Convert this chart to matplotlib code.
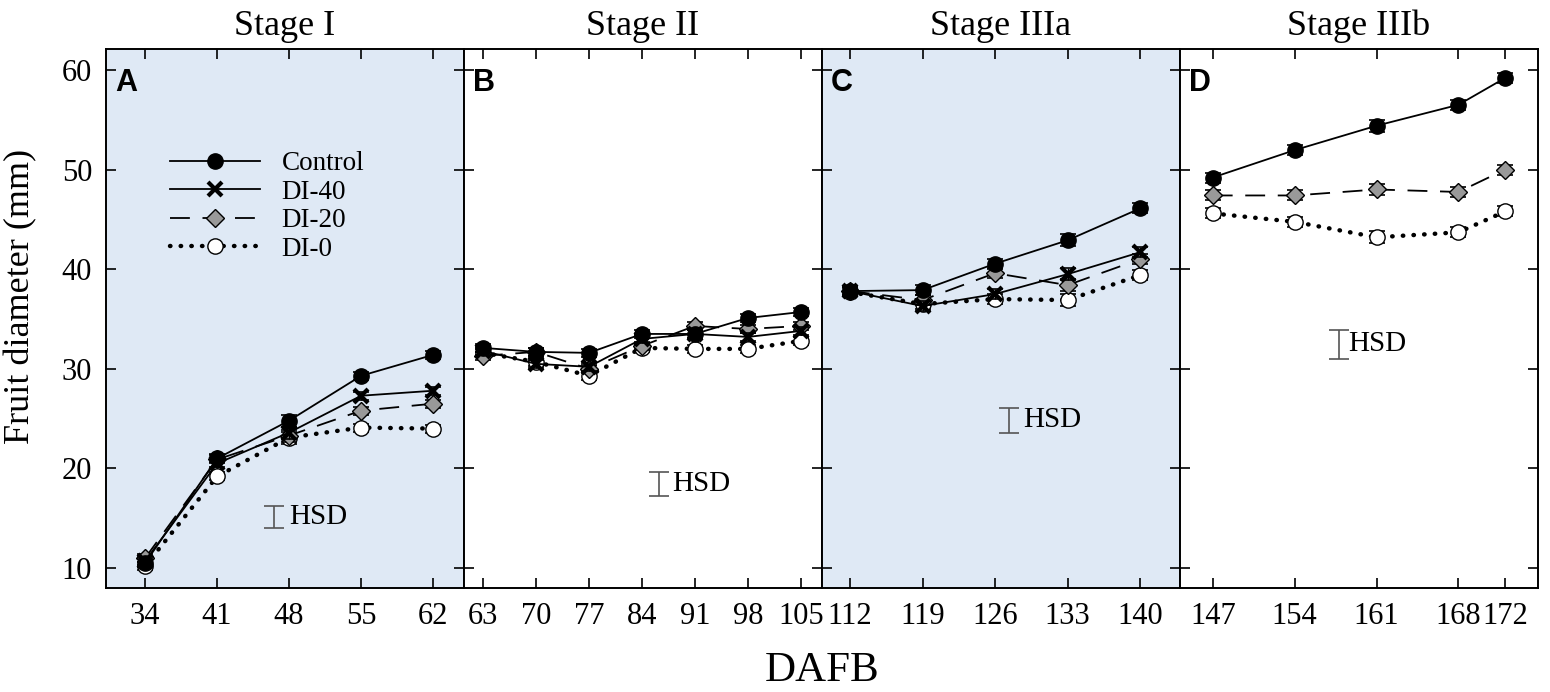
import matplotlib
matplotlib.use("Agg")
import matplotlib.pyplot as plt
import numpy as np

plt.rcParams['font.family'] = ['Liberation Serif', 'DejaVu Serif']
plt.rcParams['mathtext.fontset'] = 'stix'

# ---------------- data ----------------
stages = ["Stage I", "Stage II", "Stage IIIa", "Stage IIIb"]
panel_letters = ["A", "B", "C", "D"]

days_A = [34, 41, 48, 55, 62]
days_B = [63, 70, 77, 84, 91, 98, 105]
days_C = [112, 119, 126, 133, 140]
days_D = [147, 154, 161, 168, 172]

control_A = [10.5, 21.0, 24.8, 29.3, 31.4]
di40_A = [10.7, 20.5, 23.6, 27.3, 27.8]
di20_A = [11.0, 20.9, 23.3, 25.8, 26.5]
di0_A = [10.2, 19.2, 23.1, 24.1, 24.0]

control_B = [32.1, 31.7, 31.6, 33.5, 33.5, 35.1, 35.7]
di40_B = [31.8, 30.5, 30.2, 33.0, 33.5, 33.2, 33.8]
di20_B = [31.3, 31.7, 30.0, 32.3, 34.3, 34.0, 34.3]
di0_B = [31.6, 30.7, 29.3, 32.1, 32.0, 32.0, 32.8]

control_C = [37.8, 37.9, 40.55, 42.9, 46.1]
di40_C = [37.8, 36.3, 37.5, 39.5, 41.7]
di20_C = [37.8, 36.9, 39.6, 38.4, 41.0]
di0_C = [37.7, 36.5, 37.0, 36.9, 39.4]

control_D = [49.2, 51.95, 54.4, 56.5, 59.2]
di20_D = [47.4, 47.4, 48.0, 47.75, 50.0]
di0_D = [45.6, 44.75, 43.2, 43.7, 45.8]

err_A = [0.4, 0.4, 0.6, 0.4, 0.4]
err_B = [0.4, 0.4, 0.4, 0.4, 0.4, 0.4, 0.4]
err_C = [0.4, 0.5, 0.5, 0.6, 0.5]
err_D = [0.5, 0.5, 0.6, 0.5, 0.5]

hsd_x = [46.5, 86.25, 127.3, 157.8]
hsd_center = [15.1, 18.4, 24.85, 32.45]
hsd_half = [1.1, 1.2, 1.25, 1.45]
hsd_text_x = [48.0, 88.0, 128.7, 158.6]

xlims = [(30.2, 65.0), (60.5, 107.8), (109.3, 143.85), (144.2, 174.8)]
yticks = [10, 20, 30, 40, 50, 60]

panels = [
    (days_A, {"Control": control_A, "DI-40": di40_A, "DI-20": di20_A, "DI-0": di0_A}, err_A),
    (days_B, {"Control": control_B, "DI-40": di40_B, "DI-20": di20_B, "DI-0": di0_B}, err_B),
    (days_C, {"Control": control_C, "DI-40": di40_C, "DI-20": di20_C, "DI-0": di0_C}, err_C),
    (days_D, {"Control": control_D, "DI-20": di20_D, "DI-0": di0_D}, err_D),
]

styles = {
    "Control": dict(color="black", linestyle="-", lw=1.3, marker="o", ms=11,
                    mfc="black", mec="black", mew=1.0, zorder=6),
    "DI-40": dict(color="black", linestyle="-", lw=1.3, marker="x", ms=9.5,
                  mfc="black", mec="black", mew=3.0, zorder=5),
    "DI-20": dict(color="black", linestyle=(0, (11, 7)), lw=1.3, marker="D", ms=9.5,
                  mfc="#999999", mec="black", mew=1.0, zorder=4),
    "DI-0": dict(color="black", linestyle=(0, (0.1, 2.3)), lw=3.2, marker="o", ms=11,
                 mfc="white", mec="black", mew=1.0, zorder=3, dash_capstyle="round"),
}
draw_order = ["DI-0", "DI-20", "DI-40", "Control"]
legend_order = ["Control", "DI-40", "DI-20", "DI-0"]
bg_colors = ["#dfe9f5", "white", "#dfe9f5", "white"]

fig = plt.figure(figsize=(15.5, 6.92), dpi=100)
left, right, bottom, top = 106 / 1550, 1538 / 1550, 1 - 588 / 692, 1 - 49 / 692
w = (right - left) / 4

handles = {}
for i, (days, series, err) in enumerate(panels):
    ax = fig.add_axes([left + i * w, bottom, w, top - bottom])
    ax.set_facecolor(bg_colors[i])
    for name in draw_order:
        if name not in series:
            continue
        st = dict(styles[name])
        z = st.pop("zorder")
        capstyle = st.pop("dash_capstyle", None)
        ax.errorbar(days, series[name], yerr=err, fmt="none", ecolor="black",
                    elinewidth=1.0, capsize=6, capthick=1.2, zorder=z - 0.5)
        ln, = ax.plot(days, series[name], zorder=z, **st)
        if capstyle:
            ln.set_dash_capstyle(capstyle)
        handles[name] = ln
    # HSD bar
    ax.errorbar([hsd_x[i]], [hsd_center[i]], yerr=[hsd_half[i]], fmt="none",
                ecolor="#555555", elinewidth=1.2, capsize=7, capthick=1.2)
    ax.text(hsd_text_x[i], hsd_center[i], "HSD", fontsize=21, va="center", ha="left")

    ax.set_xlim(*xlims[i])
    ax.set_ylim(8, 62.1)
    ax.set_xticks(days)
    ax.set_yticks(yticks)
    ax.tick_params(axis="both", direction="in", top=True, right=True, length=7,
                   width=1.2, labelsize=22, pad=10)
    if i > 0:
        ax.tick_params(axis="y", labelleft=False)
    for sp in ax.spines.values():
        sp.set_linewidth(1.4)
    ax.set_title(stages[i], fontsize=26, pad=10)
    ax.text(0.025, 0.965, panel_letters[i], transform=ax.transAxes, fontsize=22,
            fontweight="bold", family=["Liberation Sans", "DejaVu Sans"], va="top", ha="left")
    if i == 0:
        leg = ax.legend([handles[n] for n in legend_order], legend_order, loc="upper left",
                        bbox_to_anchor=(0.18, 0.81), frameon=False, fontsize=19.5,
                        handlelength=3.3, handletextpad=0.8, labelspacing=0.13,
                        borderpad=0, borderaxespad=0)

fig.text(21 / 1550, 1 - 296 / 692, "Fruit diameter (mm)", rotation=90, fontsize=26,
         va="center", ha="center")
fig.text((left + right) / 2, 1 - 671 / 692, "DAFB", fontsize=31, va="center", ha="center")

fig.savefig("out.png", dpi=100)
